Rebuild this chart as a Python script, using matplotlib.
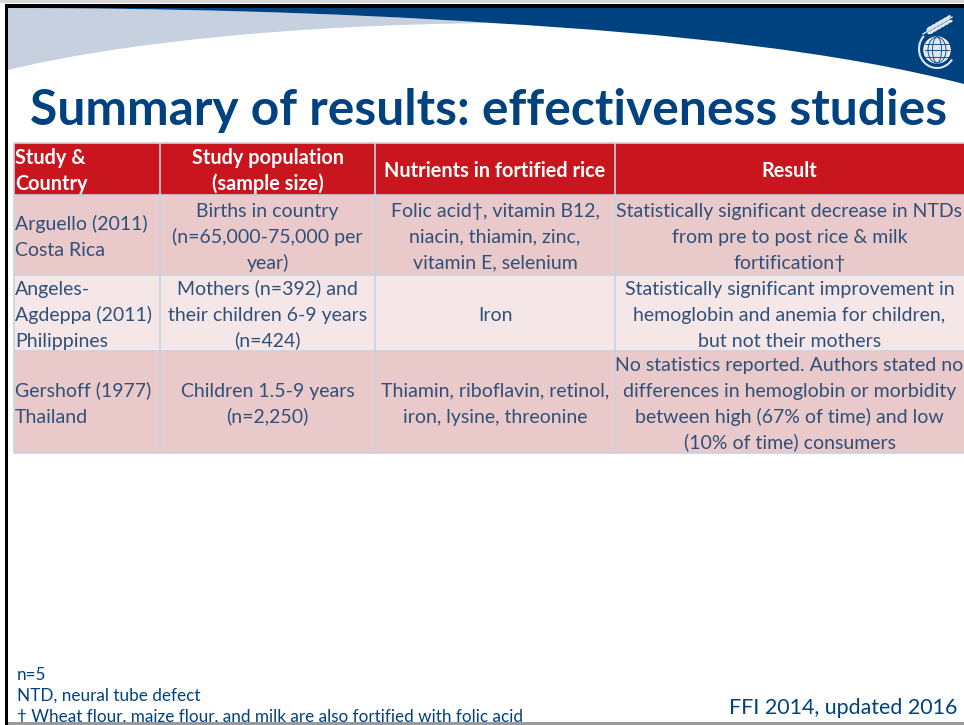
import matplotlib
matplotlib.use("Agg")
import matplotlib.pyplot as plt
from matplotlib.path import Path
from matplotlib.patches import PathPatch, Rectangle, Circle, Ellipse, Arc

FONT = "Lato"
TITLE = "Summary of results: effectiveness studies"
HEADERS = [["Study &", "Country"],
           ["Study population", "(sample size)"],
           ["Nutrients in fortified rice"],
           ["Result"]]
STUDY = [["Arguello (2011)", "Costa Rica"],
         ["Angeles-", "Agdeppa (2011)", "Philippines"],
         ["Gershoff (1977)", "Thailand"]]
POPULATION = [["Births in country", "(n=65,000-75,000 per", "year)"],
              ["Mothers (n=392) and", "their children 6-9 years", "(n=424)"],
              ["Children 1.5-9 years", "(n=2,250)"]]
NUTRIENTS = [["Folic acid†, vitamin B12,", "niacin, thiamin, zinc,", "vitamin E, selenium"],
             ["Iron"],
             ["Thiamin, riboflavin, retinol,", "iron, lysine, threonine"]]
RESULT = [["Statistically significant decrease in NTDs", "from pre to post rice & milk", "fortification†"],
          ["Statistically significant improvement in", "hemoglobin and anemia for children,", "but not their mothers"],
          ["No statistics reported. Authors stated no", "differences in hemoglobin or morbidity",
           "between high (67% of time) and low", "(10% of time) consumers"]]
FOOTNOTES = ["n=5", "NTD, neural tube defect", "† Wheat flour, maize flour, and milk are also fortified with folic acid"]
CREDIT = "FFI 2014, updated 2016"

COL_EDGES = [14, 160, 375, 615, 964]
ROW_EDGES = [143, 195, 275, 351, 453]
ROW_COLORS = ["#e9c9ca", "#f5e7e8", "#e9c9ca"]
NAVY = "#00417f"
TEXT = "#2f5078"
GRID = "#c9d2e0"

fig = plt.figure(figsize=(9.64, 7.25), dpi=100, facecolor="white")
ax = fig.add_axes([0, 0, 1, 1])
ax.set_xlim(0, 964)
ax.set_ylim(725, 0)
ax.axis("off")

# banner
C4 = Path.CURVE4
gray = Path([(8, 70), (110, 45), (280, 25), (492, 23), (330, 12), (150, 8), (8, 8), (8, 70)],
            [Path.MOVETO, C4, C4, C4, C4, C4, C4, Path.CLOSEPOLY])
ax.add_patch(PathPatch(gray, fc="#c6d0de", ec="none", zorder=1))
blue = Path([(8, 8), (150, 8), (330, 12), (492, 23), (680, 34), (840, 52), (964, 84), (964, 8), (8, 8)],
            [Path.MOVETO, C4, C4, C4, C4, C4, C4, Path.LINETO, Path.CLOSEPOLY])
ax.add_patch(PathPatch(blue, fc=NAVY, ec="none", zorder=2))

# logo
LOGO_X, LOGO_Y, LOGO_R = 937, 50, 13
ax.add_patch(Circle((LOGO_X, LOGO_Y), LOGO_R, fc="#dfe6ee", ec="white", lw=1, zorder=3))
for d in (-6.5, 0, 6.5):
    ax.plot([LOGO_X - LOGO_R + 1, LOGO_X + LOGO_R - 1], [LOGO_Y + d] * 2, color=NAVY, lw=0.6, zorder=4)
for w in (9, 18):
    ax.add_patch(Ellipse((LOGO_X, LOGO_Y), w, 2 * LOGO_R, fc="none", ec=NAVY, lw=0.6, zorder=4))
ax.add_patch(Arc((LOGO_X, LOGO_Y - 1), 36, 38, theta1=35, theta2=225, angle=0, ec="#dfe6ee", lw=1.5, zorder=3))
ax.plot([923, 952], [34, 17], color="#dfe6ee", lw=1, zorder=3)
for k in range(6):
    cx, cy = 929 + k * 3.8, 30.5 - k * 2.2
    ax.add_patch(Ellipse((cx, cy - 2), 6.5, 3, angle=-40, fc="#dfe6ee", ec="none", zorder=3))
    ax.add_patch(Ellipse((cx + 1.5, cy + 2), 6.5, 3, angle=-15, fc="#dfe6ee", ec="none", zorder=3))

# frame
ax.add_patch(Rectangle((0, 0), 964, 3, fc="#d8d8d8", ec="none", zorder=5))
ax.add_patch(Rectangle((5, 4), 959, 3.5, fc="black", ec="none", zorder=6))
ax.add_patch(Rectangle((5, 4), 3, 721, fc="black", ec="none", zorder=6))
ax.add_patch(Rectangle((8, 722), 956, 3, fc="#9a9a9a", ec="none", zorder=6))

ax.text(30, 125, TITLE, family=FONT, weight="bold", fontsize=35.8, color=NAVY, ha="left", va="baseline", zorder=7)

# table
ax.add_patch(Rectangle((COL_EDGES[0], ROW_EDGES[0]), COL_EDGES[-1] - COL_EDGES[0], ROW_EDGES[1] - ROW_EDGES[0],
                       fc="#c9161e", ec="none", zorder=3))
for i, c in enumerate(ROW_COLORS):
    ax.add_patch(Rectangle((COL_EDGES[0], ROW_EDGES[i + 1]), COL_EDGES[-1] - COL_EDGES[0],
                           ROW_EDGES[i + 2] - ROW_EDGES[i + 1], fc=c, ec="none", zorder=3))
for x in COL_EDGES[:-1]:
    ax.plot([x, x], [ROW_EDGES[0], ROW_EDGES[-1]], color=GRID, lw=1.2, zorder=4, solid_capstyle="butt")
for y in ROW_EDGES:
    ax.plot([COL_EDGES[0], COL_EDGES[-1]], [y, y], color=GRID, lw=1.2, zorder=4, solid_capstyle="butt")

LINE_H = 26
def cell(lines, col, ytop, ybot, left=False, **kw):
    mid = (ytop + ybot) / 2
    x0, x1 = COL_EDGES[col], COL_EDGES[col + 1]
    for j, s in enumerate(lines):
        y = mid + (j - (len(lines) - 1) / 2) * LINE_H + 7.5
        ax.text(x0 + 1 if left else (x0 + x1) / 2, y, s, ha="left" if left else "center",
                va="baseline", family=FONT, zorder=7, **kw)

for c, h in enumerate(HEADERS):
    cell(h, c, ROW_EDGES[0], ROW_EDGES[1], left=(c == 0), color="white", weight="bold", fontsize=14.3)
for r in range(3):
    for c, col in enumerate((STUDY, POPULATION, NUTRIENTS, RESULT)):
        cell(col[r], c, ROW_EDGES[r + 1], ROW_EDGES[r + 2], left=(c == 0), color=TEXT, fontsize=14)

for s, y in zip(FOOTNOTES, (680, 701, 722)):
    ax.text(17, y, s, family=FONT, fontsize=12.3, color=NAVY, ha="left", va="baseline", zorder=5)
ax.text(957, 714, CREDIT, family=FONT, fontsize=15.4, color=NAVY, ha="right", va="baseline", zorder=7)

fig.savefig("out.png", dpi=100, facecolor="white")
